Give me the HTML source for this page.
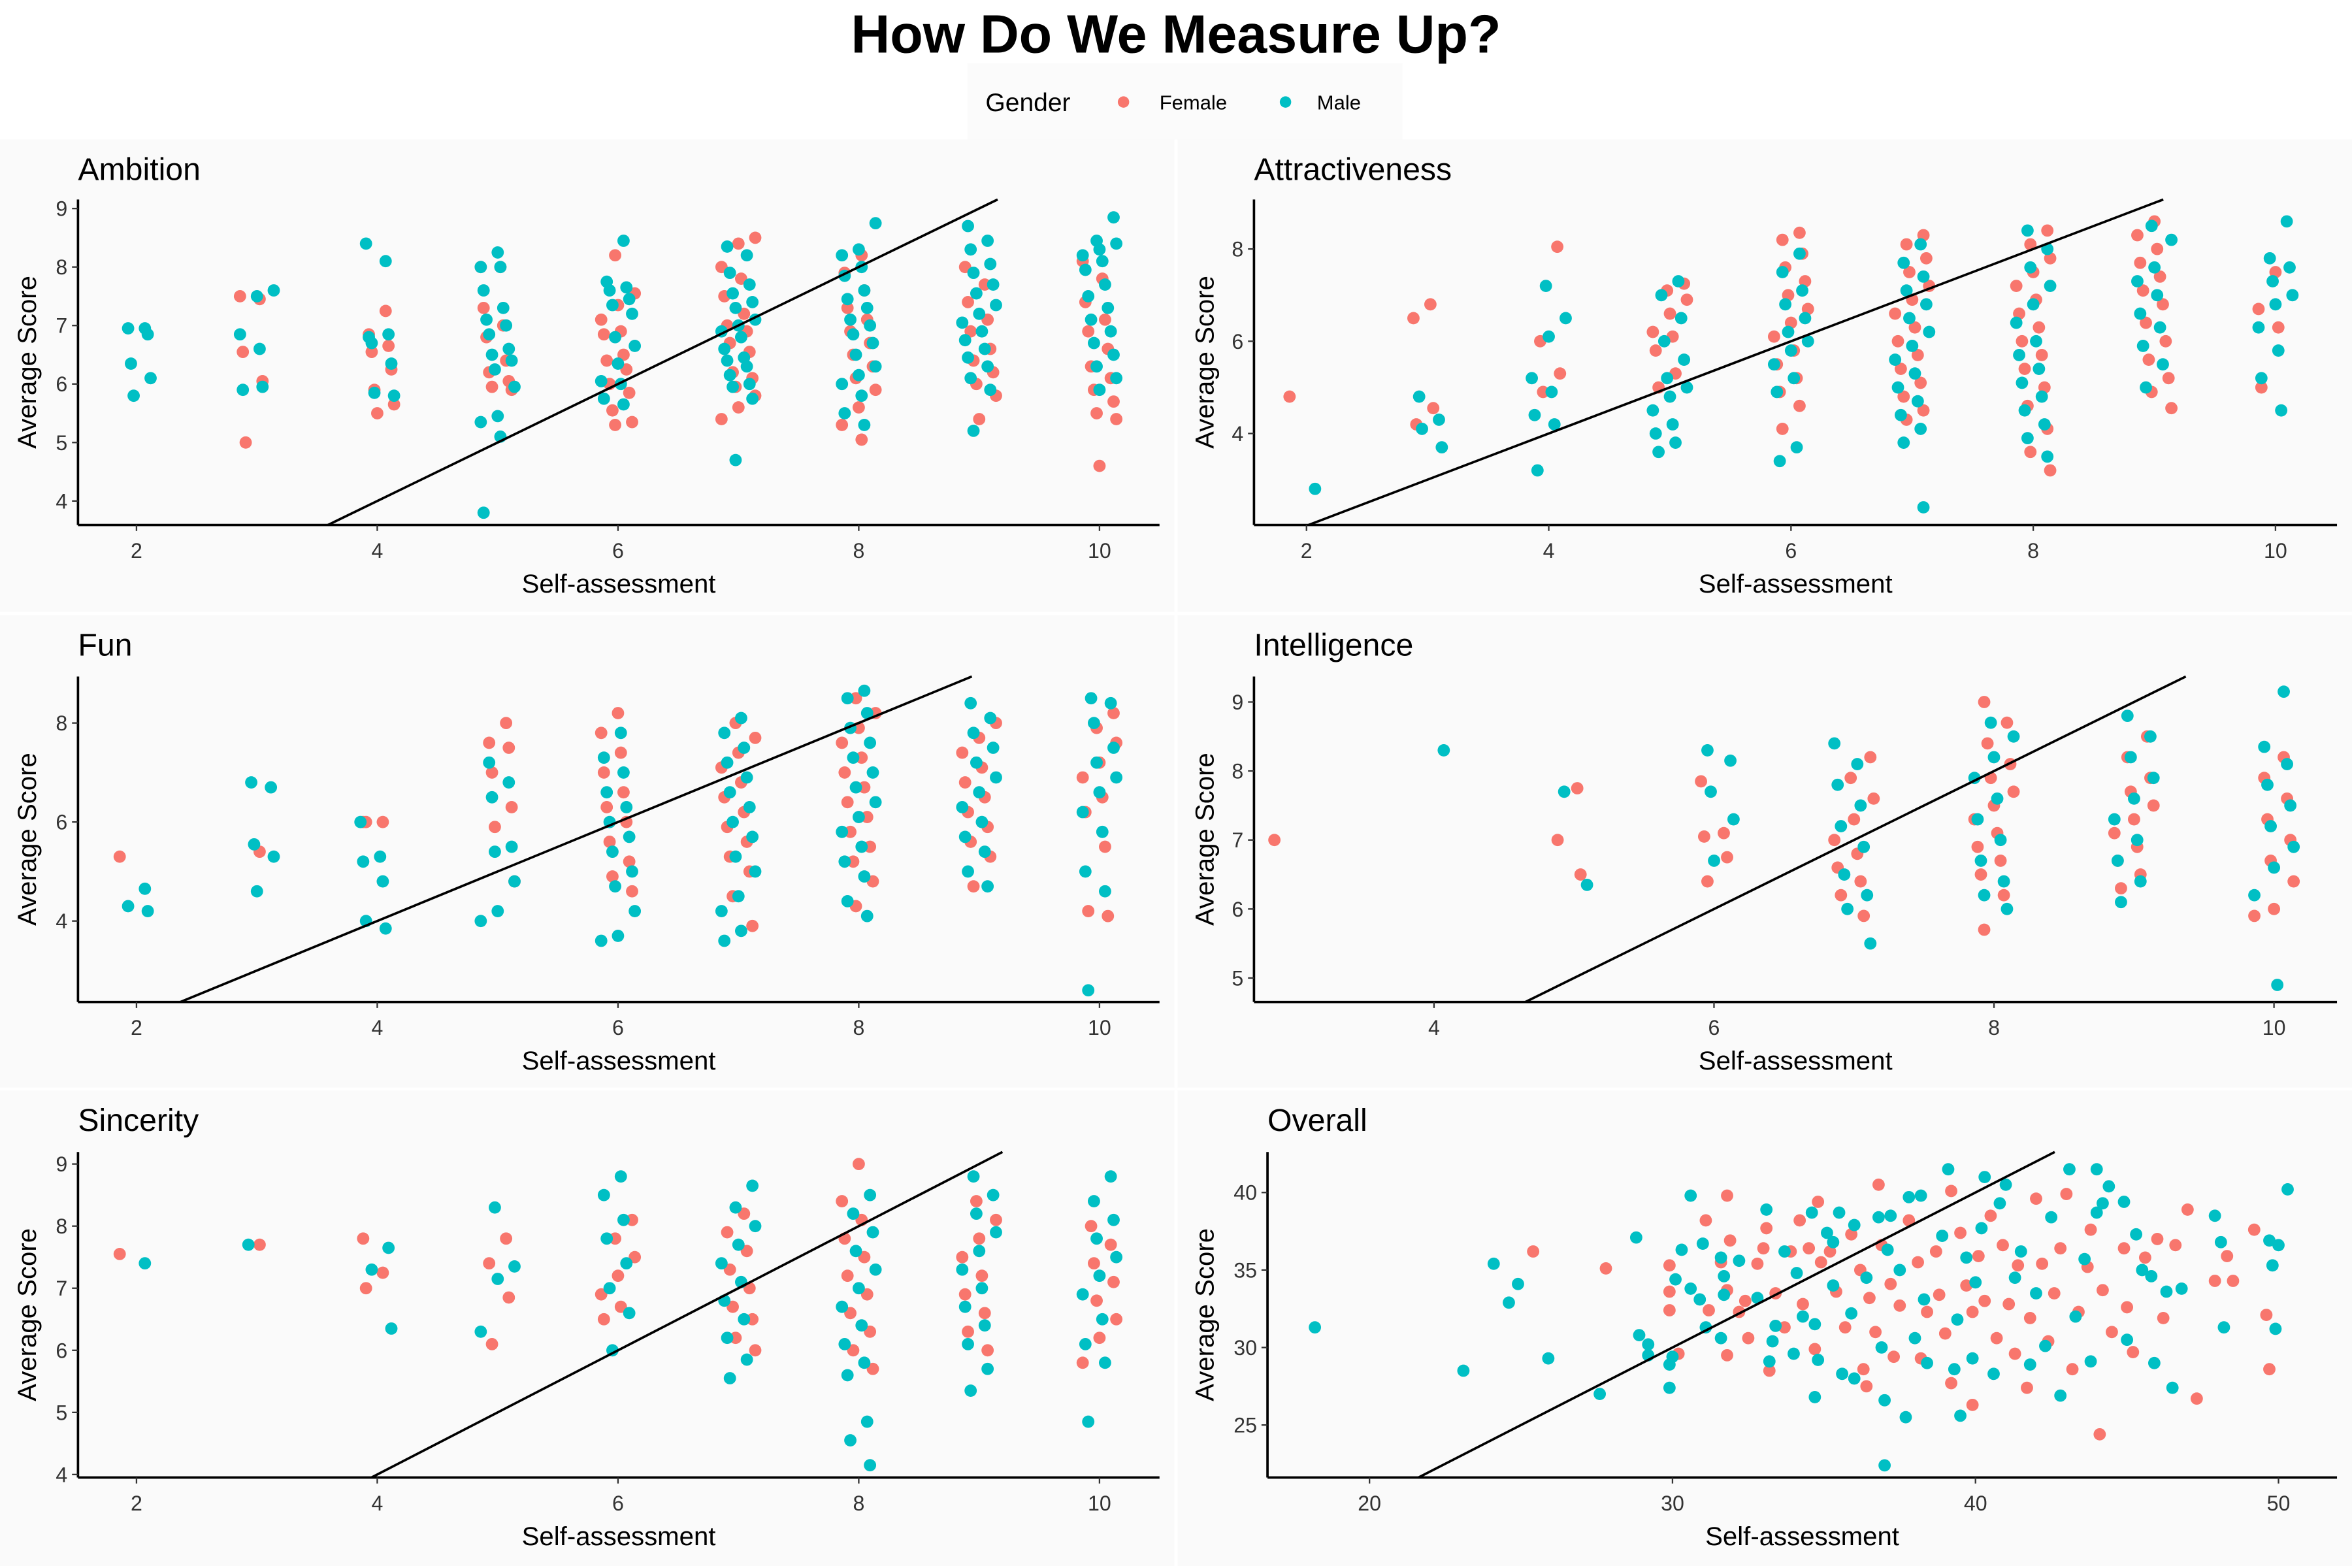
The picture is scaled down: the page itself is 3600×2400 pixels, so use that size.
<!DOCTYPE html>
<html><head><meta charset="utf-8"><style>
html,body{margin:0;padding:0;background:#fff;width:3600px;height:2400px;overflow:hidden;}
svg{display:block;font-family:"Liberation Sans",Arial,sans-serif;}
</style></head><body>
<svg id="chart" width="3600" height="2400" viewBox="0 0 1568 1045.33" preserveAspectRatio="none" xmlns="http://www.w3.org/2000/svg">
<rect x="0" y="0" width="1568" height="1045" fill="#ffffff"/>
<text x="784" y="35" text-anchor="middle" font-size="36" font-weight="bold" fill="#000">How Do We Measure Up?</text>
<g>
<rect x="645" y="42" width="290" height="51" fill="#fbfbfb"/>
<text x="657" y="74" font-size="17" fill="#000">Gender</text>
<circle cx="749" cy="68" r="3.8" fill="#F8766D"/>
<text x="773" y="73" font-size="13.5" fill="#000">Female</text>
<circle cx="857" cy="68" r="3.8" fill="#00BFC4"/>
<text x="878" y="73" font-size="13.5" fill="#000">Male</text>
</g>
<g id="panels"></g>
</svg>
<script>
// ---- data: [self-assessment, average score] ----
const ambitionFemale=[[3,7.5],[3,7.45],[3,6.55],[3,6.05],[3,5.0],[4,7.25],[4,6.85],[4,6.65],[4,6.55],[4,6.25],[4,5.9],[4,5.65],[4,5.5],[5,8.0],[5,8.0],[5,7.3],[5,7.0],[5,6.8],[5,6.4],[5,6.2],[5,6.05],[5,5.95],[5,5.9],[6,8.2],[6,7.55],[6,7.35],[6,7.1],[6,6.9],[6,6.85],[6,6.5],[6,6.4],[6,6.25],[6,6.0],[6,5.85],[6,5.55],[6,5.35],[6,5.3],[7,8.5],[7,8.4],[7,8.0],[7,7.8],[7,7.5],[7,7.2],[7,7.0],[7,6.9],[7,6.7],[7,6.55],[7,6.2],[7,6.1],[7,5.95],[7,5.8],[7,5.6],[7,5.4],[8,8.2],[8,7.9],[8,7.6],[8,7.3],[8,7.1],[8,6.9],[8,6.7],[8,6.5],[8,6.3],[8,6.1],[8,5.9],[8,5.6],[8,5.3],[8,5.05],[9,8.0],[9,7.7],[9,7.4],[9,7.1],[9,6.9],[9,6.6],[9,6.4],[9,6.2],[9,6.0],[9,5.8],[9,5.4],[10,8.1],[10,7.8],[10,7.4],[10,7.1],[10,6.9],[10,6.6],[10,6.3],[10,6.1],[10,5.9],[10,5.7],[10,5.5],[10,5.4],[10,4.6]];
const ambitionMale=[[2,6.95],[2,6.95],[2,6.85],[2,6.35],[2,6.1],[2,5.8],[3,7.6],[3,7.5],[3,6.85],[3,6.6],[3,5.9],[3,5.95],[4,8.4],[4,8.1],[4,6.8],[4,6.85],[4,6.7],[4,6.35],[4,5.85],[4,5.8],[5,8.25],[5,8.0],[5,8.0],[5,7.6],[5,7.3],[5,7.1],[5,7.0],[5,6.85],[5,6.6],[5,6.5],[5,6.4],[5,6.25],[5,5.95],[5,5.45],[5,5.35],[5,5.1],[5,3.8],[6,8.45],[6,7.75],[6,7.65],[6,7.6],[6,7.45],[6,7.35],[6,7.2],[6,6.8],[6,6.65],[6,6.35],[6,6.05],[6,6.0],[6,5.75],[6,5.65],[7,8.35],[7,8.2],[7,7.9],[7,7.7],[7,7.55],[7,7.4],[7,7.3],[7,7.1],[7,7.0],[7,6.9],[7,6.8],[7,6.6],[7,6.45],[7,6.4],[7,6.3],[7,6.15],[7,6.0],[7,5.95],[7,5.75],[7,4.7],[8,8.75],[8,8.3],[8,8.2],[8,8.0],[8,7.85],[8,7.6],[8,7.45],[8,7.3],[8,7.1],[8,7.0],[8,6.85],[8,6.7],[8,6.5],[8,6.3],[8,6.15],[8,6.0],[8,5.8],[8,5.5],[8,5.3],[9,8.7],[9,8.45],[9,8.3],[9,8.05],[9,7.9],[9,7.7],[9,7.55],[9,7.35],[9,7.2],[9,7.05],[9,6.9],[9,6.75],[9,6.6],[9,6.45],[9,6.3],[9,6.1],[9,5.9],[9,5.2],[10,8.85],[10,8.45],[10,8.4],[10,8.3],[10,8.2],[10,8.1],[10,7.95],[10,7.7],[10,7.5],[10,7.3],[10,7.1],[10,6.9],[10,6.7],[10,6.5],[10,6.3],[10,6.1],[10,5.9]];
const attractFemale=[[2,4.8],[3,6.8],[3,6.5],[3,4.55],[3,4.2],[4,8.05],[4,6.0],[4,5.3],[4,4.9],[5,7.25],[5,7.1],[5,6.9],[5,6.6],[5,6.2],[5,6.1],[5,5.8],[5,5.3],[5,5.0],[6,8.35],[6,8.2],[6,7.9],[6,7.6],[6,7.3],[6,7.0],[6,6.7],[6,6.4],[6,6.1],[6,5.8],[6,5.5],[6,5.2],[6,4.9],[6,4.6],[6,4.1],[7,8.3],[7,8.1],[7,7.8],[7,7.5],[7,7.2],[7,6.9],[7,6.6],[7,6.3],[7,6.0],[7,5.7],[7,5.4],[7,5.1],[7,4.8],[7,4.5],[7,4.3],[8,8.4],[8,8.1],[8,7.8],[8,7.5],[8,7.2],[8,6.9],[8,6.6],[8,6.3],[8,6.0],[8,5.7],[8,5.4],[8,5.0],[8,4.6],[8,4.1],[8,3.6],[8,3.2],[9,8.6],[9,8.3],[9,8.0],[9,7.7],[9,7.4],[9,7.1],[9,6.8],[9,6.4],[9,6.0],[9,5.6],[9,5.2],[9,4.9],[9,4.55],[10,7.5],[10,6.7],[10,6.3],[10,5.0]];
const attractMale=[[2,2.8],[3,4.8],[3,4.3],[3,4.1],[3,3.7],[4,7.2],[4,6.5],[4,6.1],[4,5.2],[4,4.9],[4,4.4],[4,4.2],[4,3.2],[5,7.3],[5,7.0],[5,6.5],[5,6.0],[5,5.6],[5,5.2],[5,5.0],[5,4.8],[5,4.5],[5,4.2],[5,4.0],[5,3.8],[5,3.6],[6,7.9],[6,7.5],[6,7.1],[6,6.8],[6,6.5],[6,6.2],[6,6.0],[6,5.8],[6,5.5],[6,5.2],[6,4.9],[6,3.7],[6,3.4],[7,8.1],[7,7.7],[7,7.4],[7,7.1],[7,6.8],[7,6.5],[7,6.2],[7,5.9],[7,5.6],[7,5.3],[7,5.0],[7,4.7],[7,4.4],[7,4.1],[7,3.8],[7,2.4],[8,8.4],[8,8.0],[8,7.6],[8,7.2],[8,6.8],[8,6.4],[8,6.0],[8,5.7],[8,5.4],[8,5.1],[8,4.8],[8,4.5],[8,4.2],[8,3.9],[8,3.5],[9,8.5],[9,8.2],[9,7.6],[9,7.3],[9,7.0],[9,6.6],[9,6.3],[9,5.9],[9,5.5],[9,5.0],[10,8.6],[10,7.8],[10,7.6],[10,7.3],[10,7.0],[10,6.8],[10,6.3],[10,5.8],[10,5.2],[10,4.5]];
const funFemale=[[2,5.3],[3,5.4],[4,6.0],[4,6.0],[4,6.0],[5,8.0],[5,7.6],[5,7.5],[5,7.0],[5,6.3],[5,5.9],[5,4.8],[6,8.2],[6,7.8],[6,7.4],[6,7.0],[6,6.6],[6,6.3],[6,6.0],[6,5.6],[6,5.2],[6,4.9],[6,4.6],[7,8.0],[7,7.7],[7,7.4],[7,7.1],[7,6.8],[7,6.5],[7,6.2],[7,5.9],[7,5.6],[7,5.3],[7,5.0],[7,4.5],[7,3.9],[8,8.5],[8,8.2],[8,7.9],[8,7.6],[8,7.3],[8,7.0],[8,6.7],[8,6.4],[8,6.1],[8,5.8],[8,5.5],[8,5.2],[8,4.8],[8,4.3],[9,8.0],[9,7.7],[9,7.4],[9,7.1],[9,6.8],[9,6.5],[9,6.2],[9,5.9],[9,5.6],[9,5.3],[9,4.7],[10,8.2],[10,7.9],[10,7.6],[10,7.2],[10,6.9],[10,6.5],[10,6.2],[10,5.5],[10,4.2],[10,4.1]];
const funMale=[[2,4.65],[2,4.3],[2,4.2],[3,6.8],[3,6.7],[3,5.55],[3,5.3],[3,4.6],[4,6.0],[4,5.3],[4,5.2],[4,4.8],[4,4.0],[4,3.85],[5,7.2],[5,6.8],[5,6.5],[5,5.5],[5,5.4],[5,4.8],[5,4.2],[5,4.0],[6,7.8],[6,7.3],[6,7.0],[6,6.6],[6,6.3],[6,6.0],[6,5.7],[6,5.4],[6,5.0],[6,4.7],[6,4.2],[6,3.7],[6,3.6],[7,8.1],[7,7.8],[7,7.5],[7,7.2],[7,6.9],[7,6.6],[7,6.3],[7,6.0],[7,5.7],[7,5.3],[7,5.0],[7,4.5],[7,4.2],[7,3.8],[7,3.6],[8,8.65],[8,8.5],[8,8.2],[8,7.9],[8,7.6],[8,7.3],[8,7.0],[8,6.7],[8,6.4],[8,6.1],[8,5.8],[8,5.5],[8,5.2],[8,4.9],[8,4.4],[8,4.1],[9,8.4],[9,8.1],[9,7.8],[9,7.5],[9,7.2],[9,6.9],[9,6.6],[9,6.3],[9,6.0],[9,5.7],[9,5.4],[9,5.0],[9,4.7],[10,8.5],[10,8.4],[10,8.0],[10,7.5],[10,7.2],[10,6.9],[10,6.6],[10,6.2],[10,5.8],[10,5.0],[10,4.6],[10,2.6]];
const intelFemale=[[3,7.0],[5,7.75],[5,7.0],[5,6.5],[6,7.85],[6,7.1],[6,7.05],[6,6.75],[6,6.4],[7,8.2],[7,7.9],[7,7.6],[7,7.3],[7,7.0],[7,6.8],[7,6.6],[7,6.4],[7,6.2],[7,5.9],[8,9.0],[8,8.7],[8,8.4],[8,8.1],[8,7.9],[8,7.7],[8,7.5],[8,7.3],[8,7.1],[8,6.9],[8,6.7],[8,6.5],[8,6.2],[8,5.7],[9,8.5],[9,8.2],[9,7.9],[9,7.7],[9,7.5],[9,7.3],[9,7.1],[9,6.9],[9,6.7],[9,6.5],[9,6.3],[10,8.2],[10,7.9],[10,7.6],[10,7.3],[10,7.0],[10,6.7],[10,6.4],[10,6.0],[10,5.9]];
const intelMale=[[4,8.3],[5,7.7],[5,6.35],[6,8.3],[6,8.15],[6,7.7],[6,7.3],[6,6.7],[7,8.4],[7,8.1],[7,7.8],[7,7.5],[7,7.2],[7,6.9],[7,6.5],[7,6.2],[7,6.0],[7,5.5],[8,8.7],[8,8.5],[8,8.2],[8,7.9],[8,7.6],[8,7.3],[8,7.0],[8,6.7],[8,6.4],[8,6.2],[8,6.0],[9,8.8],[9,8.5],[9,8.2],[9,7.9],[9,7.6],[9,7.3],[9,7.0],[9,6.7],[9,6.4],[9,6.1],[10,9.15],[10,8.35],[10,8.1],[10,7.8],[10,7.5],[10,7.2],[10,6.9],[10,6.6],[10,6.2],[10,4.9]];
const sincFemale=[[2,7.55],[3,7.7],[4,7.8],[4,7.25],[4,7.0],[5,7.8],[5,7.4],[5,6.85],[5,6.1],[6,8.1],[6,7.8],[6,7.5],[6,7.2],[6,6.9],[6,6.7],[6,6.5],[7,8.2],[7,7.9],[7,7.6],[7,7.3],[7,7.0],[7,6.7],[7,6.5],[7,6.2],[7,6.0],[8,9.0],[8,8.4],[8,8.1],[8,7.8],[8,7.5],[8,7.2],[8,6.9],[8,6.6],[8,6.3],[8,6.0],[8,5.7],[9,8.4],[9,8.1],[9,7.8],[9,7.5],[9,7.2],[9,6.9],[9,6.6],[9,6.3],[9,6.0],[10,8.0],[10,7.7],[10,7.4],[10,7.1],[10,6.8],[10,6.5],[10,6.2],[10,5.8]];
const sincMale=[[2,7.4],[3,7.7],[4,7.65],[4,7.3],[4,6.35],[5,8.3],[5,7.35],[5,7.15],[5,6.3],[6,8.8],[6,8.5],[6,8.1],[6,7.8],[6,7.4],[6,7.0],[6,6.6],[6,6.0],[7,8.65],[7,8.3],[7,8.0],[7,7.7],[7,7.4],[7,7.1],[7,6.8],[7,6.5],[7,6.2],[7,5.85],[7,5.55],[8,8.5],[8,8.2],[8,7.9],[8,7.6],[8,7.3],[8,7.0],[8,6.7],[8,6.4],[8,6.1],[8,5.8],[8,5.6],[8,4.85],[8,4.55],[8,4.15],[9,8.8],[9,8.5],[9,8.2],[9,7.9],[9,7.6],[9,7.3],[9,7.0],[9,6.7],[9,6.4],[9,6.1],[9,5.7],[9,5.35],[10,8.8],[10,8.4],[10,8.1],[10,7.8],[10,7.5],[10,7.2],[10,6.9],[10,6.5],[10,6.1],[10,5.8],[10,4.85]];
const overallMale=[[18.2,31.3],[23.1,28.5],[24.1,35.4],[24.6,32.9],[24.9,34.1],[25.9,29.3],[27.6,27.0],[28.8,37.1],[28.9,30.8],[29.2,30.2],[29.2,29.5],[29.9,27.4],[29.9,28.9],[30.0,29.4],[30.1,34.4],[30.3,36.3],[30.6,39.8],[30.6,33.8],[30.9,33.1],[31.0,36.7],[31.1,31.3],[31.6,30.6],[31.6,35.8],[31.7,34.6],[31.7,33.4],[32.2,35.6],[32.8,33.2],[33.1,38.9],[33.2,29.1],[33.3,30.4],[33.4,31.4],[33.7,36.2],[34.0,29.6],[34.1,34.8],[34.3,32.0],[34.6,38.7],[34.7,26.8],[34.7,31.5],[34.8,29.2],[35.1,37.4],[35.3,36.8],[35.3,34.0],[35.5,38.7],[35.6,28.3],[35.9,32.2],[36.0,37.9],[36.0,28.0],[36.4,34.5],[36.8,38.4],[36.9,30.0],[37.0,22.4],[37.0,26.6],[37.1,36.3],[37.2,38.5],[37.5,35.0],[37.7,25.5],[37.8,39.7],[38.0,30.6],[38.2,39.8],[38.3,33.1],[38.4,29.0],[38.9,37.2],[39.1,41.5],[39.3,28.6],[39.4,31.8],[39.5,25.6],[39.7,35.8],[39.9,29.3],[40.0,34.2],[40.2,37.7],[40.3,41.0],[40.6,28.3],[40.8,39.3],[41.0,40.5],[41.3,34.5],[41.5,36.2],[41.8,28.9],[42.0,33.5],[42.3,30.1],[42.5,38.4],[42.8,26.9],[43.1,41.5],[43.3,32.0],[43.6,35.7],[43.8,29.1],[44.0,38.7],[44.0,41.5],[44.2,39.3],[44.4,40.4],[44.9,39.4],[45.0,30.5],[45.3,37.3],[45.5,35.0],[45.8,34.6],[45.9,29.0],[46.3,33.6],[46.5,27.4],[46.8,33.8],[47.9,38.5],[48.1,36.8],[48.2,31.3],[49.7,36.9],[49.8,35.3],[49.9,31.2],[50.0,36.6],[50.3,40.2]];
const overallFemale=[[25.4,36.2],[27.8,35.1],[29.9,35.3],[29.9,33.6],[29.9,32.4],[30.2,29.6],[31.1,38.2],[31.2,32.4],[31.6,35.5],[31.8,39.8],[31.8,33.7],[31.8,29.5],[31.9,36.9],[32.2,32.3],[32.4,33.0],[32.5,30.6],[32.8,35.4],[33.0,36.4],[33.1,37.7],[33.2,28.5],[33.4,33.5],[33.7,31.3],[33.9,36.2],[34.2,38.2],[34.3,32.8],[34.5,36.4],[34.7,29.9],[34.8,39.4],[34.9,35.5],[35.2,36.2],[35.4,33.6],[35.7,31.3],[35.9,37.3],[36.2,35.0],[36.3,28.6],[36.4,27.5],[36.5,33.2],[36.7,31.0],[36.8,40.5],[36.9,36.6],[37.2,34.1],[37.3,29.4],[37.5,32.7],[37.8,38.2],[38.1,35.5],[38.2,29.3],[38.4,32.3],[38.7,36.2],[38.8,33.4],[39.0,30.9],[39.2,40.1],[39.2,27.7],[39.5,37.4],[39.7,34.0],[39.9,32.3],[39.9,26.3],[40.1,35.9],[40.3,33.0],[40.5,38.5],[40.7,30.6],[40.9,36.6],[41.1,32.8],[41.3,29.6],[41.4,35.3],[41.7,27.4],[41.8,31.9],[42.0,39.6],[42.2,35.4],[42.4,30.4],[42.6,33.5],[42.8,36.4],[43.0,39.9],[43.2,28.6],[43.4,32.3],[43.7,35.2],[43.8,37.6],[44.1,24.4],[44.2,33.7],[44.5,31.0],[44.9,36.4],[45.0,32.6],[45.2,29.7],[45.6,35.8],[46.0,37.0],[46.2,31.9],[46.6,36.6],[47.0,38.9],[47.3,26.7],[47.9,34.3],[48.3,35.9],[48.5,34.3],[49.2,37.6],[49.6,32.1],[49.7,28.6]];
const panelTitles=["Ambition","Attractiveness","Fun","Intelligence","Sincerity","Overall"];
const xTicksSmall=[2,4,6,8,10];
const xTicksIntel=[4,6,8,10];
const xTicksOverall=[20,30,40,50];
const yTicksAmbition=[4,5,6,7,8,9];
const yTicksAttract=[4,6,8];
const yTicksFun=[4,6,8];
const yTicksIntel=[5,6,7,8,9];
const yTicksSinc=[4,5,6,7,8,9];
const yTicksOverall=[25,30,35,40];

const NS="http://www.w3.org/2000/svg";
const root=document.getElementById('panels');
function mk(tag,attrs,parent){const e=document.createElementNS(NS,tag);for(const k in attrs)e.setAttribute(k,attrs[k]);parent.appendChild(e);return e;}
function lin(d0,d1,r0,r1){const f=v=>r0+(v-d0)*(r1-r0)/(d1-d0);f.inv=r=>d0+(r-r0)*(d1-d0)/(r1-r0);return f;}

const panels=[
 {key:'ambition',title:panelTitles[0],bg:[0,93,783,315],px:[52,773],py:[133,350],xs:lin(2,10,91,733),ys:lin(4,9,334,139),xt:xTicksSmall,yt:yTicksAmbition,f:ambitionFemale,m:ambitionMale,jit:true},
 {key:'attractiveness',title:panelTitles[1],bg:[785,93,783,315],px:[836,1558],py:[133,350],xs:lin(2,10,871,1517),ys:lin(4,8,289,166),xt:xTicksSmall,yt:yTicksAttract,f:attractFemale,m:attractMale,jit:true},
 {key:'fun',title:panelTitles[2],bg:[0,410,783,315],px:[52,773],py:[451,668],xs:lin(2,10,91,733),ys:lin(4,8,614,482),xt:xTicksSmall,yt:yTicksFun,f:funFemale,m:funMale,jit:true},
 {key:'intelligence',title:panelTitles[3],bg:[785,410,783,315],px:[836,1558],py:[451,668],xs:lin(4,10,956,1516),ys:lin(5,9,652,468),xt:xTicksIntel,yt:yTicksIntel,f:intelFemale,m:intelMale,jit:true},
 {key:'sincerity',title:panelTitles[4],bg:[0,727,783,317],px:[52,773],py:[768,985],xs:lin(2,10,91,733),ys:lin(4,9,983,776),xt:xTicksSmall,yt:yTicksSinc,f:sincFemale,m:sincMale,jit:true},
 {key:'overall',title:panelTitles[5],bg:[785,727,783,317],px:[845,1558],py:[768,985],xs:lin(20,50,913,1519),ys:lin(25,40,950,795),xt:xTicksOverall,yt:yTicksOverall,f:overallFemale,m:overallMale,jit:false}
];

panels.forEach((p,pi)=>{
 const g=mk('g',{},root);
 
 
 mk('rect',{x:p.bg[0],y:p.bg[1],width:p.bg[2],height:p.bg[3],fill:'#FAFAFA'},g);
 const t=mk('text',{x:p.px[0],y:p.bg[1]+27,'font-size':21,fill:'#000'},g);
 t.textContent=p.title;
 
 
 const pts=mk('g',{},g);
 const jitter=i=>p.jit?(((i*7)%13)-6)/6*0.14:0;
 [[p.f,'#F8766D','female'],[p.m,'#00BFC4','male']].forEach(([arr,col,nm])=>{
  arr.forEach((d,i)=>{
   const c=mk('circle',{cx:p.xs(d[0]+jitter(i+(nm==='male'?5:0))).toFixed(1),cy:p.ys(d[1]).toFixed(1),r:4.1,fill:col},pts);
   
   
  });
 });
 // identity line y = x, clipped analytically to the plot area
 const xlo=p.xs.inv(p.px[0]), xhi=p.xs.inv(p.px[1]);
 const ylo=p.ys.inv(p.py[1]), yhi=p.ys.inv(p.py[0]);
 const a=Math.max(xlo,ylo), b=Math.min(xhi,yhi);
 if(b>a){
  const ln=mk('line',{x1:p.xs(a).toFixed(1),y1:p.ys(a).toFixed(1),x2:p.xs(b).toFixed(1),y2:p.ys(b).toFixed(1),stroke:'#000','stroke-width':1.6},g);
  
  
 }
 const ax=mk('g',{},g);
 
 
 mk('line',{x1:p.px[0],y1:p.py[1],x2:p.px[1],y2:p.py[1],stroke:'#000','stroke-width':1.6},ax);
 mk('line',{x1:p.px[0],y1:p.py[0],x2:p.px[0],y2:p.py[1],stroke:'#000','stroke-width':1.6},ax);
 p.xt.forEach(v=>{
  const x=p.xs(v);
  mk('line',{x1:x,y1:p.py[1],x2:x,y2:p.py[1]+4,stroke:'#333','stroke-width':1},ax);
  const tt=mk('text',{x:x,y:p.py[1]+22,'font-size':14,'text-anchor':'middle',fill:'#333'},ax);
  tt.textContent=v;
  
  
 });
 p.yt.forEach(v=>{
  const y=p.ys(v);
  mk('line',{x1:p.px[0]-4,y1:y,x2:p.px[0],y2:y,stroke:'#333','stroke-width':1},ax);
  const tt=mk('text',{x:p.px[0]-7,y:y+5,'font-size':14,'text-anchor':'end',fill:'#333'},ax);
  tt.textContent=v;
  
  
 });
 const xl=mk('text',{x:(p.px[0]+p.px[1])/2,y:p.py[1]+45,'font-size':17.5,'text-anchor':'middle',fill:'#000'},g);
 xl.textContent='Self-assessment';
 
 
 const yc=(p.py[0]+p.py[1])/2, yx=p.bg[0]+24;
 const yl=mk('text',{x:yx,y:yc,'font-size':17.5,'text-anchor':'middle',fill:'#000',transform:'rotate(-90 '+yx+' '+yc+')'},g);
 yl.textContent='Average Score';
 
 
});
</script>
</body></html>
